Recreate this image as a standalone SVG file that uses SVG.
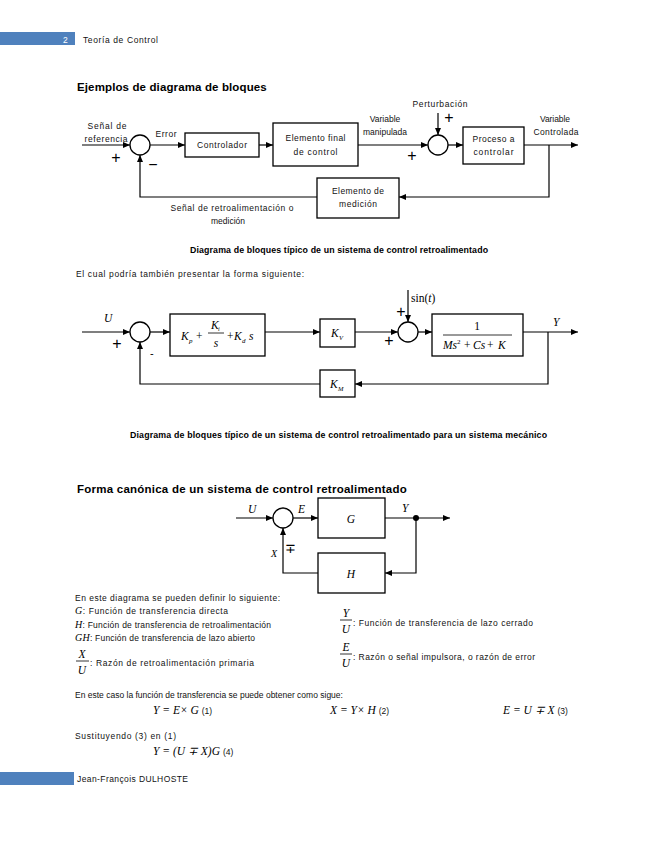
<svg xmlns="http://www.w3.org/2000/svg" width="655" height="848" viewBox="0 0 655 848">
<defs>
<marker id="ah" markerWidth="7" markerHeight="6" refX="7" refY="3" orient="auto" markerUnits="userSpaceOnUse"><path d="M0,0 L7,3 L0,6 Z" fill="#000"/></marker>
<style>
.t{font-family:"Liberation Sans",Arial,sans-serif;font-size:8.5px;fill:#111}
.lb{font-family:"Liberation Sans",Arial,sans-serif;font-size:8.5px;fill:#111;text-anchor:middle}
.h{font-family:"Liberation Sans",Arial,sans-serif;font-size:11.5px;font-weight:bold;fill:#000;letter-spacing:0.25px}
.cap{font-family:"Liberation Sans",Arial,sans-serif;font-size:8.8px;font-weight:bold;fill:#000}
.m{font-family:"Liberation Serif","Times New Roman",serif;font-size:11.5px;font-style:italic;fill:#000}
.mr{font-family:"Liberation Serif","Times New Roman",serif;font-size:11.5px;fill:#000}
.pm{font-family:"Liberation Sans",Arial,sans-serif;font-size:16px;fill:#000;text-anchor:middle}
.box{fill:#fff;stroke:#000;stroke-width:1.3}
.ar{fill:none;stroke:#000;stroke-width:1.2;marker-end:url(#ah)}
.sn{font-family:"Liberation Sans",Arial,sans-serif;font-size:11px;fill:#000}
.fl{stroke:#000;stroke-width:0.8}
</style>
</defs>
<rect width="655" height="848" fill="#fff"/>

<g id="header">
<rect x="0" y="32" width="75" height="13" fill="#4f81bd"/>
<text x="63" y="42.5" class="t" style="fill:#fff">2</text>
<text x="83" y="43" class="t" textLength="75">Teoría de Control</text>
</g>
<text x="77" y="91" class="h" textLength="190">Ejemplos de diagrama de bloques</text>

<!-- Diagram 1 -->
<g id="connectors1">
<line x1="82" y1="145" x2="130" y2="145" class="ar"/>
<line x1="150" y1="145" x2="185" y2="145" class="ar"/>
<line x1="259" y1="145" x2="273" y2="145" class="ar"/>
<line x1="358" y1="145" x2="428" y2="145" class="ar"/>
<line x1="438" y1="113" x2="438" y2="135" class="ar"/>
<line x1="448" y1="145" x2="463" y2="145" class="ar"/>
<line x1="524" y1="145" x2="578" y2="145" class="ar"/>
<path d="M549,145 V197 H399" class="ar"/>
<path d="M317,197 H140 V155" class="ar"/>
</g>
<g id="sum1"><circle cx="140" cy="145" r="10" class="box"/></g>
<g id="controlador"><rect x="185" y="133" width="74" height="24" class="box"/><text x="222" y="148" class="lb" textLength="50">Controlador</text></g>
<g id="elemento-final"><rect x="273" y="123" width="85" height="43" class="box"/><text x="315.5" y="141" class="lb" textLength="60">Elemento final</text><text x="315.5" y="155" class="lb" textLength="44">de control</text></g>
<g id="sum2"><circle cx="438" cy="145" r="10" class="box"/></g>
<g id="proceso"><rect x="463" y="127" width="61" height="37" class="box"/><text x="493.5" y="142" class="lb" textLength="42">Proceso a</text><text x="493.5" y="155" class="lb" textLength="40">controlar</text></g>
<g id="medicion"><rect x="317" y="178" width="82" height="40" class="box"/><text x="358" y="194" class="lb" textLength="52">Elemento de</text><text x="358" y="207" class="lb" textLength="38">medición</text></g>
<g id="labels1">
<text x="107" y="129" class="lb" textLength="39">Señal de</text>
<text x="106" y="142" class="lb" textLength="43">referencia</text>
<text x="166" y="137" class="lb" textLength="21">Error</text>
<text x="385" y="122" class="lb">Variable</text>
<text x="385" y="135" class="lb">manipulada</text>
<text x="440" y="107" class="lb" textLength="55">Perturbación</text>
<text x="555" y="122" class="lb" textLength="30">Variable</text>
<text x="556" y="135" class="lb" textLength="45">Controlada</text>
<text x="232" y="211" class="lb" textLength="123">Señal de retroalimentación o</text>
<text x="228" y="224" class="lb">medición</text>
<text x="116" y="163" class="pm">+</text>
<text x="153" y="170" class="pm">−</text>
<text x="412" y="161" class="pm">+</text>
<text x="449" y="123" class="pm">+</text>
</g>
<text x="190" y="253" class="cap" textLength="298">Diagrama de bloques típico de un sistema de control retroalimentado</text>
<text x="76" y="277" class="t" textLength="228">El cual podría también presentar la forma siguiente:</text>

<!-- Diagram 2 -->
<g id="connectors2">
<line x1="82" y1="332" x2="130" y2="332" class="ar"/>
<line x1="150" y1="332" x2="170" y2="332" class="ar"/>
<line x1="265" y1="332" x2="320" y2="332" class="ar"/>
<line x1="355" y1="332" x2="398" y2="332" class="ar"/>
<line x1="408" y1="290" x2="408" y2="322" class="ar"/>
<line x1="418" y1="332" x2="432" y2="332" class="ar"/>
<line x1="523" y1="332" x2="578" y2="332" class="ar"/>
<path d="M548,332 V384 H355" class="ar"/>
<path d="M320,384 H140 V342" class="ar"/>
</g>
<g id="sum3"><circle cx="140" cy="332" r="10" class="box"/></g>
<g id="pid"><rect x="170" y="314" width="95" height="42" class="box"/>
<text x="181" y="340" class="m">K</text><text x="189" y="343" class="m" style="font-size:7px">p</text>
<text x="196" y="340" class="mr">+</text>
<text x="211" y="329" class="m">K</text><text x="218" y="331" class="m" style="font-size:6px">i</text>
<line x1="208" y1="333" x2="224" y2="333" class="fl"/>
<text x="216" y="347" class="m" text-anchor="middle">s</text>
<text x="227" y="340" class="mr">+</text>
<text x="234" y="340" class="m">K</text><text x="242" y="343" class="m" style="font-size:7px">d</text>
<text x="249" y="340" class="m">s</text>
</g>
<g id="kv"><rect x="320" y="319" width="35" height="28" class="box"/><text x="331" y="337" class="m">K</text><text x="339" y="340" class="m" style="font-size:6.5px">V</text></g>
<g id="sum4"><circle cx="408" cy="332" r="10" class="box"/></g>
<g id="plant"><rect x="432" y="314" width="91" height="42" class="box"/>
<text x="477" y="330" class="mr" text-anchor="middle">1</text>
<line x1="443" y1="335" x2="512" y2="335" class="fl"/>
<text x="443" y="349" class="m">Ms</text><text x="457" y="344" class="mr" style="font-size:7px">2</text><text x="464" y="349" class="mr">+</text><text x="473" y="349" class="m">Cs</text><text x="487" y="349" class="mr">+</text><text x="498" y="349" class="m">K</text>
</g>
<g id="km"><rect x="320" y="370" width="35" height="27" class="box"/><text x="330" y="388" class="m">K</text><text x="338" y="391" class="m" style="font-size:6.5px">M</text></g>
<g id="labels2">
<text x="104" y="322" class="m">U</text>
<text x="553" y="326" class="m">Y</text>
<text x="411" y="302" class="mr">sin(<tspan class="m">t</tspan>)</text>
<text x="117" y="349" class="pm">+</text>
<text x="150" y="357" class="sn">-</text>
<text x="389" y="346" class="pm">+</text>
<text x="401" y="317" class="pm">+</text>
</g>
<text x="130" y="438" class="cap" textLength="417">Diagrama de bloques típico de un sistema de control retroalimentado para un sistema mecánico</text>

<text x="77" y="493" class="h" textLength="330">Forma canónica de un sistema de control retroalimentado</text>

<!-- Diagram 3 -->
<g id="connectors3">
<line x1="236" y1="518" x2="273" y2="518" class="ar"/>
<line x1="293" y1="518" x2="318" y2="518" class="ar"/>
<line x1="385" y1="518" x2="450" y2="518" class="ar"/>
<path d="M416,518 V573 H385" class="ar"/>
<path d="M318,573 H283 V528" class="ar"/>
<circle cx="416" cy="518" r="3" fill="#000"/>
</g>
<g id="sum5"><circle cx="283" cy="518" r="10" class="box"/></g>
<g id="G"><rect x="318" y="498" width="67" height="40" class="box"/><text x="351" y="523" class="m" text-anchor="middle">G</text></g>
<g id="H"><rect x="318" y="553" width="67" height="40" class="box"/><text x="351" y="578" class="m" text-anchor="middle">H</text></g>
<g id="labels3">
<text x="248" y="513" class="m">U</text>
<text x="298" y="513" class="m">E</text>
<text x="402" y="512" class="m">Y</text>
<text x="271" y="557" class="m" style="font-size:10px">X</text>
<text x="290" y="553" class="mr" text-anchor="middle" style="font-size:13px">∓</text>
</g>

<g id="definitions">
<text x="75" y="601" class="t" textLength="205">En este diagrama se pueden definir lo siguiente:</text>
<text x="75" y="614" class="t" textLength="153"><tspan class="m" style="font-size:10px">G</tspan>: Función de transferencia directa</text>
<text x="75" y="628" class="t" textLength="196"><tspan class="m" style="font-size:10px">H</tspan>: Función de transferencia de retroalimentación</text>
<text x="75" y="641" class="t" textLength="180"><tspan class="m" style="font-size:10px">GH</tspan>: Función de transferencia de lazo abierto</text>
<text x="82" y="658" class="m" text-anchor="middle">X</text>
<line x1="76" y1="661" x2="89" y2="661" class="fl"/>
<text x="82" y="674" class="m" text-anchor="middle">U</text>
<text x="90" y="666" class="t" textLength="164">: Razón de retroalimentación primaria</text>
<text x="346" y="617" class="m" text-anchor="middle">Y</text>
<line x1="340" y1="620" x2="352" y2="620" class="fl"/>
<text x="346" y="633" class="m" text-anchor="middle">U</text>
<text x="353" y="626" class="t" textLength="180">: Función de transferencia de lazo cerrado</text>
<text x="346" y="651" class="m" text-anchor="middle">E</text>
<line x1="340" y1="654" x2="352" y2="654" class="fl"/>
<text x="346" y="667" class="m" text-anchor="middle">U</text>
<text x="353" y="660" class="t" textLength="182">: Razón o señal impulsora, o razón de error</text>
</g>

<g id="equations">
<text x="75" y="698" class="t">En este caso la función de transferencia se puede obtener como sigue:</text>
<text x="153" y="714" class="m">Y <tspan class="mr">=</tspan> E<tspan class="mr">×</tspan> G <tspan class="t" style="font-style:normal">(1)</tspan></text>
<text x="330" y="714" class="m">X <tspan class="mr">=</tspan> Y<tspan class="mr">×</tspan> H <tspan class="t" style="font-style:normal">(2)</tspan></text>
<text x="503" y="714" class="m">E <tspan class="mr">=</tspan> U <tspan class="mr">∓</tspan> X <tspan class="t" style="font-style:normal">(3)</tspan></text>
<text x="75" y="739" class="t" textLength="101">Sustituyendo (3) en (1)</text>
<text x="153" y="755" class="m">Y <tspan class="mr">=</tspan> <tspan class="mr">(</tspan>U <tspan class="mr">∓</tspan> X<tspan class="mr">)</tspan>G <tspan class="t" style="font-style:normal">(4)</tspan></text>
</g>

<g id="footer">
<rect x="0" y="772" width="74" height="13" fill="#4f81bd"/>
<text x="77" y="782" class="t" textLength="111">Jean-François DULHOSTE</text>
</g>
</svg>
